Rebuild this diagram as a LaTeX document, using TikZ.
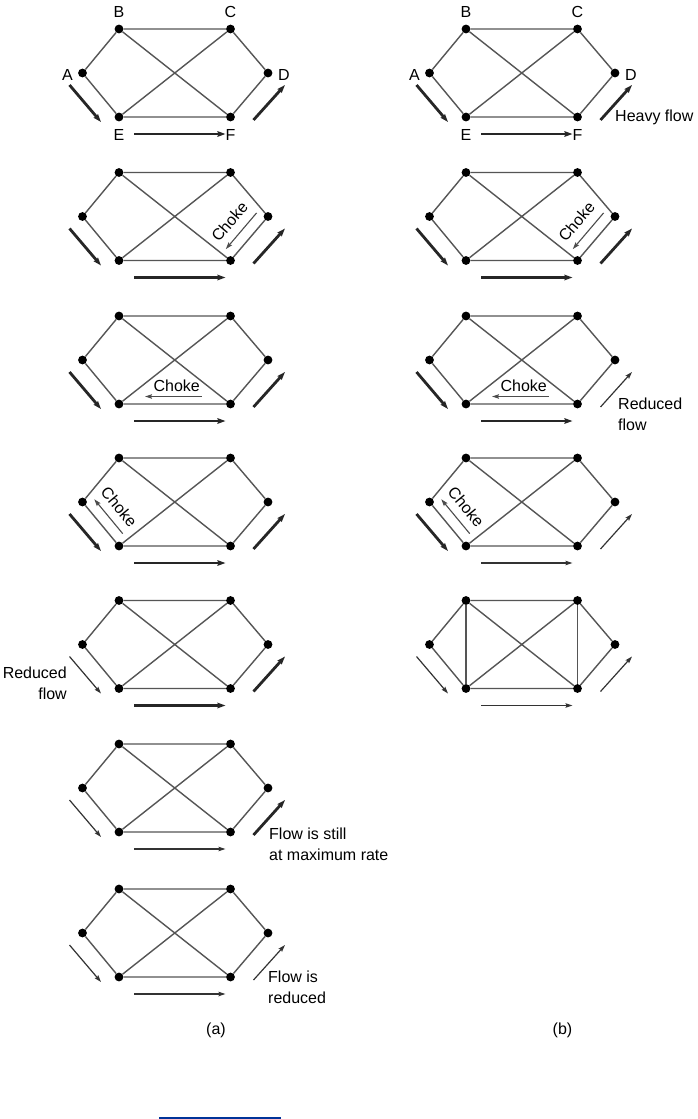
\documentclass[tikz,border=0pt]{standalone}
\usepackage{fontspec}
\setmainfont{Liberation Sans}
\usetikzlibrary{arrows.meta,calc}
\definecolor{edgegray}{RGB}{85,85,85}
\definecolor{linkblue}{RGB}{0,51,153}
\tikzset{
  dot/.style={circle,fill=black,inner sep=0pt,minimum size=8.8pt},
  edge/.style={draw=edgegray,line width=1.4pt},
  heavy/.style={draw=black!85,line width=2.8pt,-{Stealth[length=8pt,width=5.5pt,inset=1pt]}},
  light/.style={draw=black!80,line width=1.2pt,-{Stealth[length=7pt,width=4.5pt,inset=1pt]}},
  choke/.style={draw=black!70,line width=1.1pt,-{Stealth[length=7pt,width=4.5pt,inset=1pt]}},
  txt/.style={inner sep=0pt,font=\fontsize{16}{21}\selectfont},
  lbl/.style={inner sep=0pt,font=\fontsize{16}{21}\selectfont},
}
\newcommand\mkrow[3]{%
  \node[dot] (#1A) at (#2-36.5,#3+44) {};
  \node[dot] (#1B) at (#2,#3) {};
  \node[dot] (#1C) at (#2+111.5,#3) {};
  \node[dot] (#1D) at (#2+149,#3+44) {};
  \node[dot] (#1E) at (#2,#3+88) {};
  \node[dot] (#1F) at (#2+111.5,#3+88) {};
  \draw[edge] (#1A)--(#1B) (#1B)--(#1C) (#1C)--(#1D) (#1D)--(#1F) (#1F)--(#1E) (#1E)--(#1A) (#1B)--(#1F) (#1C)--(#1E);
}
\newcommand\fAE[2]{\draw[#2] ($(#1A)+(-13,12)$) -- ($(#1E)+(-18,5)$);}
\newcommand\fEF[2]{\draw[#2] ($(#1E)+(15,17)$) -- ($(#1F)+(-5,17)$);}
\newcommand\fFD[2]{\draw[#2] ($(#1F)+(23,3)$) -- ($(#1D)+(17,12)$);}
\newcommand\chokeDF[1]{\draw[choke] ($(#1D)+(-11.4,-3.6)$) -- ($(#1F)+(-4.7,-11.4)$);
  \node[txt,rotate=49.6] (#1ch) at ($(#1D)!0.5!(#1F)+(-19.8,-16.9)$) {Choke};}
\newcommand\chokeFE[1]{\draw[choke] ($(#1F)+(-29,-7.5)$) -- ($(#1E)+(26,-7.5)$);
  \node[txt] (#1ch) at ($(#1E)!0.5!(#1F)+(2,-18.5)$) {Choke};}
\newcommand\chokeEA[1]{\draw[choke] ($(#1E)+(3.7,-12.4)$) -- ($(#1A)+(11.75,-2.75)$);
  \node[txt,rotate=-50.3] (#1ch) at ($(#1A)!0.5!(#1E)+(18.4,-17)$) {Choke};}
\begin{document}
\begin{tikzpicture}[x=1pt,y=-1pt]
\useasboundingbox[fill=white] (0,0) rectangle (697,1119);
% row 1
\mkrow{1a}{119}{29}
\mkrow{1b}{466}{29}
\foreach \p in {1a,1b}{
  \node[lbl] (\p lB) at ($(\p B)+(0,-17)$) {B};
  \node[lbl] (\p lC) at ($(\p C)+(0,-17)$) {C};
  \node[lbl] (\p lA) at ($(\p A)+(-15,2)$) {A};
  \node[lbl] (\p lD) at ($(\p D)+(16,2)$) {D};
  \node[lbl] (\p lE) at ($(\p E)+(0,18)$) {E};
  \node[lbl] (\p lF) at ($(\p F)+(0,18)$) {F};
}
\fAE{1a}{heavy}\fEF{1a}{heavy}\fFD{1a}{heavy}
\fAE{1b}{heavy}\fEF{1b}{heavy}\fFD{1b}{heavy}
\node[txt,anchor=west] (heavyflow) at ($(1bF)+(37.5,0)$) {Heavy flow};
% row 2
\mkrow{2a}{119}{172.5}
\mkrow{2b}{466}{172.5}
\fAE{2a}{heavy}\fEF{2a}{heavy}\fFD{2a}{heavy}\chokeDF{2a}
\fAE{2b}{heavy}\fEF{2b}{heavy}\fFD{2b}{heavy}\chokeDF{2b}
% row 3
\mkrow{3a}{119}{316}
\mkrow{3b}{466}{316}
\fAE{3a}{heavy}\fEF{3a}{heavy}\fFD{3a}{heavy}\chokeFE{3a}
\fAE{3b}{heavy}\fEF{3b}{heavy}\fFD{3b}{light}\chokeFE{3b}
\node[txt,anchor=west,align=left] (redflowb) at (618,414) {Reduced\\flow};
% row 4
\mkrow{4a}{119}{458}
\mkrow{4b}{466}{458}
\fAE{4a}{heavy}\fEF{4a}{heavy}\fFD{4a}{heavy}\chokeEA{4a}
\fAE{4b}{heavy}\fEF{4b}{light}\fFD{4b}{light}\chokeEA{4b}
% row 5
\mkrow{5a}{119}{600.5}
\mkrow{5b}{466}{600.5}
\draw[edge] (5bB)--(5bE) (5bC)--(5bF);
\fAE{5a}{light}\fEF{5a}{heavy}\fFD{5a}{heavy}
\fAE{5b}{light}\fEF{5b}{light}\fFD{5b}{light}
\node[txt,anchor=east,align=right] (redflowa) at (67,683.5) {Reduced\\flow};
% row 6
\mkrow{6a}{119}{744}
\fAE{6a}{light}\fEF{6a}{light}\fFD{6a}{heavy}
\node[txt,anchor=west,align=left] (stillmax) at (269,844) {Flow is still\\at maximum rate};
% row 7
\mkrow{7a}{119}{889}
\fAE{7a}{light}\fEF{7a}{light}\fFD{7a}{light}
\node[txt,anchor=west,align=left] (isreduced) at (268,987) {Flow is\\reduced};
% captions
\node[txt] (capa) at (216,1030) {(a)};
\node[txt] (capb) at (562.5,1030) {(b)};
\fill[linkblue] (159,1116.7) rectangle (281,1119);
\end{tikzpicture}
\end{document}
